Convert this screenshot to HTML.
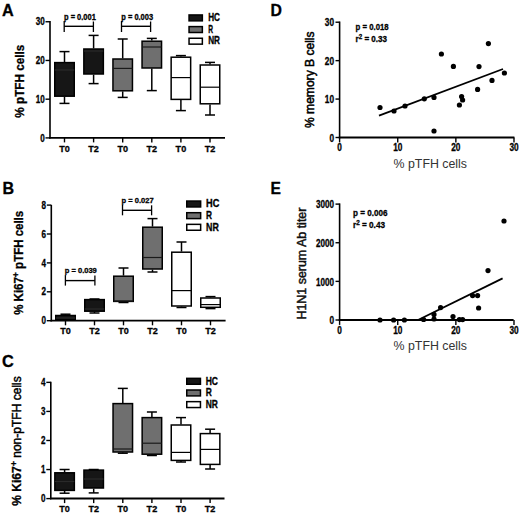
<!DOCTYPE html>
<html><head><meta charset="utf-8"><style>
html,body{margin:0;padding:0;background:#fff;}
svg{display:block;font-family:"Liberation Sans", sans-serif;}
</style></head><body>
<svg width="520" height="515" viewBox="0 0 520 515">
<rect width="520" height="515" fill="#fff"/>
<text x="2" y="15.5" font-size="16" font-weight="bold" text-anchor="start" fill="#000" stroke="#000" stroke-width="0.3" textLength="11.7" lengthAdjust="spacingAndGlyphs" >A</text>
<line x1="50" y1="20.90" x2="50" y2="138.5" stroke="#000" stroke-width="1.6"/>
<line x1="49.2" y1="137.8" x2="225" y2="137.8" stroke="#000" stroke-width="1.8"/>
<line x1="45.5" y1="21.74" x2="50" y2="21.74" stroke="#000" stroke-width="1.4"/>
<text x="44.7" y="25.34" font-size="10" font-weight="bold" text-anchor="end" fill="#000" stroke="#000" stroke-width="0.3" textLength="9" lengthAdjust="spacingAndGlyphs" >30</text>
<line x1="45.5" y1="60.46" x2="50" y2="60.46" stroke="#000" stroke-width="1.4"/>
<text x="44.7" y="64.06" font-size="10" font-weight="bold" text-anchor="end" fill="#000" stroke="#000" stroke-width="0.3" textLength="9" lengthAdjust="spacingAndGlyphs" >20</text>
<line x1="45.5" y1="99.18" x2="50" y2="99.18" stroke="#000" stroke-width="1.4"/>
<text x="44.7" y="102.78" font-size="10" font-weight="bold" text-anchor="end" fill="#000" stroke="#000" stroke-width="0.3" textLength="9" lengthAdjust="spacingAndGlyphs" >10</text>
<line x1="45.5" y1="137.9" x2="50" y2="137.9" stroke="#000" stroke-width="1.4"/>
<text x="44.7" y="141.5" font-size="10" font-weight="bold" text-anchor="end" fill="#000" stroke="#000" stroke-width="0.3" textLength="4.5" lengthAdjust="spacingAndGlyphs" >0</text>
<line x1="64.5" y1="137.8" x2="64.5" y2="142.4" stroke="#000" stroke-width="1.4"/>
<text x="64.5" y="151.60" font-size="9.5" font-weight="bold" text-anchor="middle" fill="#000" stroke="#000" stroke-width="0.3" textLength="10.6" lengthAdjust="spacingAndGlyphs" >T0</text>
<line x1="93.6" y1="137.8" x2="93.6" y2="142.4" stroke="#000" stroke-width="1.4"/>
<text x="93.6" y="151.60" font-size="9.5" font-weight="bold" text-anchor="middle" fill="#000" stroke="#000" stroke-width="0.3" textLength="10.6" lengthAdjust="spacingAndGlyphs" >T2</text>
<line x1="122.7" y1="137.8" x2="122.7" y2="142.4" stroke="#000" stroke-width="1.4"/>
<text x="122.7" y="151.60" font-size="9.5" font-weight="bold" text-anchor="middle" fill="#000" stroke="#000" stroke-width="0.3" textLength="10.6" lengthAdjust="spacingAndGlyphs" >T0</text>
<line x1="151.8" y1="137.8" x2="151.8" y2="142.4" stroke="#000" stroke-width="1.4"/>
<text x="151.8" y="151.60" font-size="9.5" font-weight="bold" text-anchor="middle" fill="#000" stroke="#000" stroke-width="0.3" textLength="10.6" lengthAdjust="spacingAndGlyphs" >T2</text>
<line x1="180.9" y1="137.8" x2="180.9" y2="142.4" stroke="#000" stroke-width="1.4"/>
<text x="180.9" y="151.60" font-size="9.5" font-weight="bold" text-anchor="middle" fill="#000" stroke="#000" stroke-width="0.3" textLength="10.6" lengthAdjust="spacingAndGlyphs" >T0</text>
<line x1="210.0" y1="137.8" x2="210.0" y2="142.4" stroke="#000" stroke-width="1.4"/>
<text x="210.0" y="151.60" font-size="9.5" font-weight="bold" text-anchor="middle" fill="#000" stroke="#000" stroke-width="0.3" textLength="10.6" lengthAdjust="spacingAndGlyphs" >T2</text>
<line x1="64.5" y1="51.6" x2="64.5" y2="62.0" stroke="#000" stroke-width="1.5"/>
<line x1="59.5" y1="51.6" x2="69.5" y2="51.6" stroke="#000" stroke-width="1.5"/>
<line x1="64.5" y1="96.8" x2="64.5" y2="103.4" stroke="#000" stroke-width="1.5"/>
<line x1="59.5" y1="103.4" x2="69.5" y2="103.4" stroke="#000" stroke-width="1.5"/>
<rect x="54.75" y="62.6" width="19.5" height="33.59" fill="#161616" stroke="#000" stroke-width="1.5"/>
<line x1="54.75" y1="70.0" x2="74.25" y2="70.0" stroke="#2a2a2a" stroke-width="1.2"/>
<line x1="93.6" y1="35.4" x2="93.6" y2="48.4" stroke="#000" stroke-width="1.5"/>
<line x1="88.6" y1="35.4" x2="98.6" y2="35.4" stroke="#000" stroke-width="1.5"/>
<line x1="93.6" y1="74.6" x2="93.6" y2="83.6" stroke="#000" stroke-width="1.5"/>
<line x1="88.6" y1="83.6" x2="98.6" y2="83.6" stroke="#000" stroke-width="1.5"/>
<rect x="83.85" y="49.0" width="19.5" height="24.99" fill="#161616" stroke="#000" stroke-width="1.5"/>
<line x1="83.85" y1="51.0" x2="103.35" y2="51.0" stroke="#2a2a2a" stroke-width="1.2"/>
<line x1="122.7" y1="39.0" x2="122.7" y2="58.4" stroke="#000" stroke-width="1.5"/>
<line x1="117.7" y1="39.0" x2="127.7" y2="39.0" stroke="#000" stroke-width="1.5"/>
<line x1="122.7" y1="91.4" x2="122.7" y2="97.4" stroke="#000" stroke-width="1.5"/>
<line x1="117.7" y1="97.4" x2="127.7" y2="97.4" stroke="#000" stroke-width="1.5"/>
<rect x="112.95" y="59.0" width="19.5" height="31.80" fill="#6f6f6f" stroke="#000" stroke-width="1.5"/>
<line x1="112.95" y1="68.4" x2="132.45" y2="68.4" stroke="#1a1a1a" stroke-width="1.2"/>
<line x1="151.8" y1="38.4" x2="151.8" y2="40.6" stroke="#000" stroke-width="1.5"/>
<line x1="146.8" y1="38.4" x2="156.8" y2="38.4" stroke="#000" stroke-width="1.5"/>
<line x1="151.8" y1="68.6" x2="151.8" y2="90.6" stroke="#000" stroke-width="1.5"/>
<line x1="146.8" y1="90.6" x2="156.8" y2="90.6" stroke="#000" stroke-width="1.5"/>
<rect x="142.05" y="41.2" width="19.5" height="26.79" fill="#6f6f6f" stroke="#000" stroke-width="1.5"/>
<line x1="142.05" y1="47.0" x2="161.55" y2="47.0" stroke="#1a1a1a" stroke-width="1.2"/>
<line x1="180.9" y1="55.6" x2="180.9" y2="56.6" stroke="#000" stroke-width="1.5"/>
<line x1="175.9" y1="55.6" x2="185.9" y2="55.6" stroke="#000" stroke-width="1.5"/>
<line x1="180.9" y1="100.0" x2="180.9" y2="110.6" stroke="#000" stroke-width="1.5"/>
<line x1="175.9" y1="110.6" x2="185.9" y2="110.6" stroke="#000" stroke-width="1.5"/>
<rect x="171.15" y="57.2" width="19.5" height="42.19" fill="#ffffff" stroke="#000" stroke-width="1.5"/>
<line x1="171.15" y1="77.6" x2="190.65" y2="77.6" stroke="#000" stroke-width="1.2"/>
<line x1="210.0" y1="62.4" x2="210.0" y2="64.4" stroke="#000" stroke-width="1.5"/>
<line x1="205.0" y1="62.4" x2="215.0" y2="62.4" stroke="#000" stroke-width="1.5"/>
<line x1="210.0" y1="104.4" x2="210.0" y2="115.0" stroke="#000" stroke-width="1.5"/>
<line x1="205.0" y1="115.0" x2="215.0" y2="115.0" stroke="#000" stroke-width="1.5"/>
<rect x="200.25" y="65.0" width="19.5" height="38.8" fill="#ffffff" stroke="#000" stroke-width="1.5"/>
<line x1="200.25" y1="87.2" x2="219.75" y2="87.2" stroke="#000" stroke-width="1.2"/>
<text x="24.1" y="81.2" font-size="12" font-weight="bold" text-anchor="middle" fill="#000" stroke="#000" stroke-width="0.3" textLength="73" lengthAdjust="spacingAndGlyphs" transform="rotate(-90 24.1 81.2)" >% pTFH cells</text>
<rect x="189.05" y="14.95" width="13.3" height="5.9" fill="#161616" stroke="#000" stroke-width="1.5"/>
<text x="208.2" y="21.1" font-size="10" font-weight="bold" text-anchor="start" fill="#000" stroke="#000" stroke-width="0.3" textLength="11.8" lengthAdjust="spacingAndGlyphs" >HC</text>
<rect x="189.05" y="26.6" width="13.3" height="5.9" fill="#6f6f6f" stroke="#000" stroke-width="1.5"/>
<text x="208.2" y="32.75" font-size="10" font-weight="bold" text-anchor="start" fill="#000" stroke="#000" stroke-width="0.3" textLength="4.8" lengthAdjust="spacingAndGlyphs" >R</text>
<rect x="189.05" y="38.25" width="13.3" height="5.9" fill="#ffffff" stroke="#000" stroke-width="1.5"/>
<text x="208.2" y="44.4" font-size="10" font-weight="bold" text-anchor="start" fill="#000" stroke="#000" stroke-width="0.3" textLength="11.8" lengthAdjust="spacingAndGlyphs" >NR</text>
<line x1="64.2" y1="21" x2="64.2" y2="32" stroke="#000" stroke-width="1.3"/>
<line x1="93.4" y1="21.5" x2="93.4" y2="32" stroke="#000" stroke-width="1.3"/>
<line x1="64.2" y1="26.3" x2="93.4" y2="26.3" stroke="#000" stroke-width="1.4"/>
<text x="64.0" y="19.8" font-size="8.5" font-weight="bold" text-anchor="start" fill="#000" stroke="#000" stroke-width="0.3" textLength="31.8" lengthAdjust="spacingAndGlyphs" >p = 0.001</text>
<line x1="121.5" y1="21" x2="121.5" y2="32" stroke="#000" stroke-width="1.3"/>
<line x1="150.6" y1="21.5" x2="150.6" y2="32" stroke="#000" stroke-width="1.3"/>
<line x1="121.5" y1="26.3" x2="150.6" y2="26.3" stroke="#000" stroke-width="1.4"/>
<text x="121.3" y="19.8" font-size="8.5" font-weight="bold" text-anchor="start" fill="#000" stroke="#000" stroke-width="0.3" textLength="31.8" lengthAdjust="spacingAndGlyphs" >p = 0.003</text>
<text x="2.4" y="193.6" font-size="16" font-weight="bold" text-anchor="start" fill="#000" stroke="#000" stroke-width="0.3" textLength="11.6" lengthAdjust="spacingAndGlyphs" >B</text>
<line x1="51.3" y1="204.9" x2="51.3" y2="321.4" stroke="#000" stroke-width="1.6"/>
<line x1="50.5" y1="320.7" x2="225.6" y2="320.7" stroke="#000" stroke-width="1.8"/>
<line x1="46.8" y1="205.1" x2="51.3" y2="205.1" stroke="#000" stroke-width="1.4"/>
<text x="46.0" y="208.7" font-size="10" font-weight="bold" text-anchor="end" fill="#000" stroke="#000" stroke-width="0.3" textLength="4.5" lengthAdjust="spacingAndGlyphs" >8</text>
<line x1="46.8" y1="234.0" x2="51.3" y2="234.0" stroke="#000" stroke-width="1.4"/>
<text x="46.0" y="237.6" font-size="10" font-weight="bold" text-anchor="end" fill="#000" stroke="#000" stroke-width="0.3" textLength="4.5" lengthAdjust="spacingAndGlyphs" >6</text>
<line x1="46.8" y1="262.9" x2="51.3" y2="262.9" stroke="#000" stroke-width="1.4"/>
<text x="46.0" y="266.5" font-size="10" font-weight="bold" text-anchor="end" fill="#000" stroke="#000" stroke-width="0.3" textLength="4.5" lengthAdjust="spacingAndGlyphs" >4</text>
<line x1="46.8" y1="291.8" x2="51.3" y2="291.8" stroke="#000" stroke-width="1.4"/>
<text x="46.0" y="295.40" font-size="10" font-weight="bold" text-anchor="end" fill="#000" stroke="#000" stroke-width="0.3" textLength="4.5" lengthAdjust="spacingAndGlyphs" >2</text>
<line x1="46.8" y1="320.7" x2="51.3" y2="320.7" stroke="#000" stroke-width="1.4"/>
<text x="46.0" y="324.3" font-size="10" font-weight="bold" text-anchor="end" fill="#000" stroke="#000" stroke-width="0.3" textLength="4.5" lengthAdjust="spacingAndGlyphs" >0</text>
<line x1="65.5" y1="320.7" x2="65.5" y2="325.3" stroke="#000" stroke-width="1.4"/>
<text x="65.5" y="333.90" font-size="9.5" font-weight="bold" text-anchor="middle" fill="#000" stroke="#000" stroke-width="0.3" textLength="10.6" lengthAdjust="spacingAndGlyphs" >T0</text>
<line x1="94.5" y1="320.7" x2="94.5" y2="325.3" stroke="#000" stroke-width="1.4"/>
<text x="94.5" y="333.90" font-size="9.5" font-weight="bold" text-anchor="middle" fill="#000" stroke="#000" stroke-width="0.3" textLength="10.6" lengthAdjust="spacingAndGlyphs" >T2</text>
<line x1="123.5" y1="320.7" x2="123.5" y2="325.3" stroke="#000" stroke-width="1.4"/>
<text x="123.5" y="333.90" font-size="9.5" font-weight="bold" text-anchor="middle" fill="#000" stroke="#000" stroke-width="0.3" textLength="10.6" lengthAdjust="spacingAndGlyphs" >T0</text>
<line x1="152.5" y1="320.7" x2="152.5" y2="325.3" stroke="#000" stroke-width="1.4"/>
<text x="152.5" y="333.90" font-size="9.5" font-weight="bold" text-anchor="middle" fill="#000" stroke="#000" stroke-width="0.3" textLength="10.6" lengthAdjust="spacingAndGlyphs" >T2</text>
<line x1="181.5" y1="320.7" x2="181.5" y2="325.3" stroke="#000" stroke-width="1.4"/>
<text x="181.5" y="333.90" font-size="9.5" font-weight="bold" text-anchor="middle" fill="#000" stroke="#000" stroke-width="0.3" textLength="10.6" lengthAdjust="spacingAndGlyphs" >T0</text>
<line x1="210.5" y1="320.7" x2="210.5" y2="325.3" stroke="#000" stroke-width="1.4"/>
<text x="210.5" y="333.90" font-size="9.5" font-weight="bold" text-anchor="middle" fill="#000" stroke="#000" stroke-width="0.3" textLength="10.6" lengthAdjust="spacingAndGlyphs" >T2</text>
<line x1="65.5" y1="314.2" x2="65.5" y2="314.9" stroke="#000" stroke-width="1.5"/>
<line x1="60.5" y1="314.2" x2="70.5" y2="314.2" stroke="#000" stroke-width="1.5"/>
<line x1="65.5" y1="320.0" x2="65.5" y2="320.0" stroke="#000" stroke-width="1.5"/>
<line x1="60.5" y1="320.0" x2="70.5" y2="320.0" stroke="#000" stroke-width="1.5"/>
<rect x="55.75" y="315.5" width="19.5" height="3.90" fill="#161616" stroke="#000" stroke-width="1.5"/>
<line x1="55.75" y1="318.0" x2="75.25" y2="318.0" stroke="#2a2a2a" stroke-width="1.2"/>
<line x1="94.5" y1="299.0" x2="94.5" y2="299.0" stroke="#000" stroke-width="1.5"/>
<line x1="89.5" y1="299.0" x2="99.5" y2="299.0" stroke="#000" stroke-width="1.5"/>
<line x1="94.5" y1="311.8" x2="94.5" y2="313.0" stroke="#000" stroke-width="1.5"/>
<line x1="89.5" y1="313.0" x2="99.5" y2="313.0" stroke="#000" stroke-width="1.5"/>
<rect x="84.75" y="299.6" width="19.5" height="11.60" fill="#161616" stroke="#000" stroke-width="1.5"/>
<line x1="84.75" y1="309.0" x2="104.25" y2="309.0" stroke="#2a2a2a" stroke-width="1.2"/>
<line x1="123.5" y1="268.0" x2="123.5" y2="275.6" stroke="#000" stroke-width="1.5"/>
<line x1="118.5" y1="268.0" x2="128.5" y2="268.0" stroke="#000" stroke-width="1.5"/>
<line x1="123.5" y1="302.0" x2="123.5" y2="302.5" stroke="#000" stroke-width="1.5"/>
<line x1="118.5" y1="302.5" x2="128.5" y2="302.5" stroke="#000" stroke-width="1.5"/>
<rect x="113.75" y="276.20" width="19.5" height="25.19" fill="#6f6f6f" stroke="#000" stroke-width="1.5"/>
<line x1="113.75" y1="301.0" x2="133.25" y2="301.0" stroke="#1a1a1a" stroke-width="1.2"/>
<line x1="152.5" y1="218.6" x2="152.5" y2="226.6" stroke="#000" stroke-width="1.5"/>
<line x1="147.5" y1="218.6" x2="157.5" y2="218.6" stroke="#000" stroke-width="1.5"/>
<line x1="152.5" y1="269.6" x2="152.5" y2="272.0" stroke="#000" stroke-width="1.5"/>
<line x1="147.5" y1="272.0" x2="157.5" y2="272.0" stroke="#000" stroke-width="1.5"/>
<rect x="142.75" y="227.2" width="19.5" height="41.80" fill="#6f6f6f" stroke="#000" stroke-width="1.5"/>
<line x1="142.75" y1="257.5" x2="162.25" y2="257.5" stroke="#1a1a1a" stroke-width="1.2"/>
<line x1="181.5" y1="242.0" x2="181.5" y2="251.6" stroke="#000" stroke-width="1.5"/>
<line x1="176.5" y1="242.0" x2="186.5" y2="242.0" stroke="#000" stroke-width="1.5"/>
<line x1="181.5" y1="306.6" x2="181.5" y2="307.5" stroke="#000" stroke-width="1.5"/>
<line x1="176.5" y1="307.5" x2="186.5" y2="307.5" stroke="#000" stroke-width="1.5"/>
<rect x="171.75" y="252.2" width="19.5" height="53.80" fill="#ffffff" stroke="#000" stroke-width="1.5"/>
<line x1="171.75" y1="290.6" x2="191.25" y2="290.6" stroke="#000" stroke-width="1.2"/>
<line x1="210.5" y1="296.6" x2="210.5" y2="297.4" stroke="#000" stroke-width="1.5"/>
<line x1="205.5" y1="296.6" x2="215.5" y2="296.6" stroke="#000" stroke-width="1.5"/>
<line x1="210.5" y1="307.9" x2="210.5" y2="308.6" stroke="#000" stroke-width="1.5"/>
<line x1="205.5" y1="308.6" x2="215.5" y2="308.6" stroke="#000" stroke-width="1.5"/>
<rect x="200.75" y="298.0" width="19.5" height="9.3" fill="#ffffff" stroke="#000" stroke-width="1.5"/>
<line x1="200.75" y1="304.6" x2="220.25" y2="304.6" stroke="#000" stroke-width="1.2"/>
<text x="23.0" y="262.8" font-size="12" font-weight="bold" text-anchor="middle" fill="#000" stroke="#000" stroke-width="0.3" textLength="104" lengthAdjust="spacingAndGlyphs" transform="rotate(-90 23.0 262.8)" >% Ki67<tspan font-size="9" dy="-4">+</tspan><tspan dy="4"> pTFH cells</tspan></text>
<rect x="186.75" y="201.05" width="13.9" height="5.9" fill="#161616" stroke="#000" stroke-width="1.5"/>
<text x="206" y="207.20" font-size="10" font-weight="bold" text-anchor="start" fill="#000" stroke="#000" stroke-width="0.3" textLength="13.3" lengthAdjust="spacingAndGlyphs" >HC</text>
<rect x="186.75" y="212.70" width="13.9" height="5.9" fill="#6f6f6f" stroke="#000" stroke-width="1.5"/>
<text x="206" y="218.85" font-size="10" font-weight="bold" text-anchor="start" fill="#000" stroke="#000" stroke-width="0.3" textLength="6" lengthAdjust="spacingAndGlyphs" >R</text>
<rect x="186.75" y="224.35" width="13.9" height="5.9" fill="#ffffff" stroke="#000" stroke-width="1.5"/>
<text x="206" y="230.50" font-size="10" font-weight="bold" text-anchor="start" fill="#000" stroke="#000" stroke-width="0.3" textLength="12.8" lengthAdjust="spacingAndGlyphs" >NR</text>
<line x1="65.4" y1="275.1" x2="65.4" y2="285.6" stroke="#000" stroke-width="1.3"/>
<line x1="94.9" y1="275.6" x2="94.9" y2="285.6" stroke="#000" stroke-width="1.3"/>
<line x1="65.4" y1="280.6" x2="94.9" y2="280.6" stroke="#000" stroke-width="1.4"/>
<text x="64.8" y="273.2" font-size="8" font-weight="bold" text-anchor="start" fill="#000" stroke="#000" stroke-width="0.3" textLength="32" lengthAdjust="spacingAndGlyphs" >p = 0.039</text>
<line x1="122.5" y1="204.8" x2="122.5" y2="215.3" stroke="#000" stroke-width="1.3"/>
<line x1="151.6" y1="205.3" x2="151.6" y2="215.3" stroke="#000" stroke-width="1.3"/>
<line x1="122.5" y1="210.3" x2="151.6" y2="210.3" stroke="#000" stroke-width="1.4"/>
<text x="121.6" y="203.2" font-size="8" font-weight="bold" text-anchor="start" fill="#000" stroke="#000" stroke-width="0.3" textLength="32" lengthAdjust="spacingAndGlyphs" >p = 0.027</text>
<text x="2" y="366.5" font-size="16" font-weight="bold" text-anchor="start" fill="#000" stroke="#000" stroke-width="0.3" textLength="11.8" lengthAdjust="spacingAndGlyphs" >C</text>
<line x1="50.8" y1="381.7" x2="50.8" y2="499.2" stroke="#000" stroke-width="1.6"/>
<line x1="50.0" y1="498.5" x2="224.5" y2="498.5" stroke="#000" stroke-width="1.8"/>
<line x1="46.3" y1="382.36" x2="50.8" y2="382.36" stroke="#000" stroke-width="1.4"/>
<text x="45.5" y="385.96" font-size="10" font-weight="bold" text-anchor="end" fill="#000" stroke="#000" stroke-width="0.3" textLength="4.5" lengthAdjust="spacingAndGlyphs" >4</text>
<line x1="46.3" y1="411.42" x2="50.8" y2="411.42" stroke="#000" stroke-width="1.4"/>
<text x="45.5" y="415.02" font-size="10" font-weight="bold" text-anchor="end" fill="#000" stroke="#000" stroke-width="0.3" textLength="4.5" lengthAdjust="spacingAndGlyphs" >3</text>
<line x1="46.3" y1="440.48" x2="50.8" y2="440.48" stroke="#000" stroke-width="1.4"/>
<text x="45.5" y="444.08" font-size="10" font-weight="bold" text-anchor="end" fill="#000" stroke="#000" stroke-width="0.3" textLength="4.5" lengthAdjust="spacingAndGlyphs" >2</text>
<line x1="46.3" y1="469.54" x2="50.8" y2="469.54" stroke="#000" stroke-width="1.4"/>
<text x="45.5" y="473.14" font-size="10" font-weight="bold" text-anchor="end" fill="#000" stroke="#000" stroke-width="0.3" textLength="4.5" lengthAdjust="spacingAndGlyphs" >1</text>
<line x1="46.3" y1="498.6" x2="50.8" y2="498.6" stroke="#000" stroke-width="1.4"/>
<text x="45.5" y="502.20" font-size="10" font-weight="bold" text-anchor="end" fill="#000" stroke="#000" stroke-width="0.3" textLength="4.5" lengthAdjust="spacingAndGlyphs" >0</text>
<line x1="64.6" y1="498.5" x2="64.6" y2="503.1" stroke="#000" stroke-width="1.4"/>
<text x="64.6" y="512.1" font-size="9.5" font-weight="bold" text-anchor="middle" fill="#000" stroke="#000" stroke-width="0.3" textLength="10.6" lengthAdjust="spacingAndGlyphs" >T0</text>
<line x1="93.69" y1="498.5" x2="93.69" y2="503.1" stroke="#000" stroke-width="1.4"/>
<text x="93.69" y="512.1" font-size="9.5" font-weight="bold" text-anchor="middle" fill="#000" stroke="#000" stroke-width="0.3" textLength="10.6" lengthAdjust="spacingAndGlyphs" >T2</text>
<line x1="122.8" y1="498.5" x2="122.8" y2="503.1" stroke="#000" stroke-width="1.4"/>
<text x="122.8" y="512.1" font-size="9.5" font-weight="bold" text-anchor="middle" fill="#000" stroke="#000" stroke-width="0.3" textLength="10.6" lengthAdjust="spacingAndGlyphs" >T0</text>
<line x1="151.9" y1="498.5" x2="151.9" y2="503.1" stroke="#000" stroke-width="1.4"/>
<text x="151.9" y="512.1" font-size="9.5" font-weight="bold" text-anchor="middle" fill="#000" stroke="#000" stroke-width="0.3" textLength="10.6" lengthAdjust="spacingAndGlyphs" >T2</text>
<line x1="181.0" y1="498.5" x2="181.0" y2="503.1" stroke="#000" stroke-width="1.4"/>
<text x="181.0" y="512.1" font-size="9.5" font-weight="bold" text-anchor="middle" fill="#000" stroke="#000" stroke-width="0.3" textLength="10.6" lengthAdjust="spacingAndGlyphs" >T0</text>
<line x1="210.1" y1="498.5" x2="210.1" y2="503.1" stroke="#000" stroke-width="1.4"/>
<text x="210.1" y="512.1" font-size="9.5" font-weight="bold" text-anchor="middle" fill="#000" stroke="#000" stroke-width="0.3" textLength="10.6" lengthAdjust="spacingAndGlyphs" >T2</text>
<line x1="64.6" y1="469.5" x2="64.6" y2="472.2" stroke="#000" stroke-width="1.5"/>
<line x1="59.59" y1="469.5" x2="69.6" y2="469.5" stroke="#000" stroke-width="1.5"/>
<line x1="64.6" y1="491.0" x2="64.6" y2="493.2" stroke="#000" stroke-width="1.5"/>
<line x1="59.59" y1="493.2" x2="69.6" y2="493.2" stroke="#000" stroke-width="1.5"/>
<rect x="54.84" y="472.8" width="19.5" height="17.60" fill="#161616" stroke="#000" stroke-width="1.5"/>
<line x1="54.84" y1="481.5" x2="74.35" y2="481.5" stroke="#2a2a2a" stroke-width="1.2"/>
<line x1="93.69" y1="469.5" x2="93.69" y2="469.5" stroke="#000" stroke-width="1.5"/>
<line x1="88.69" y1="469.5" x2="98.69" y2="469.5" stroke="#000" stroke-width="1.5"/>
<line x1="93.69" y1="488.6" x2="93.69" y2="492.9" stroke="#000" stroke-width="1.5"/>
<line x1="88.69" y1="492.9" x2="98.69" y2="492.9" stroke="#000" stroke-width="1.5"/>
<rect x="83.94" y="470.1" width="19.5" height="17.90" fill="#161616" stroke="#000" stroke-width="1.5"/>
<line x1="83.94" y1="479.0" x2="103.44" y2="479.0" stroke="#2a2a2a" stroke-width="1.2"/>
<line x1="122.8" y1="388.4" x2="122.8" y2="403.0" stroke="#000" stroke-width="1.5"/>
<line x1="117.8" y1="388.4" x2="127.8" y2="388.4" stroke="#000" stroke-width="1.5"/>
<line x1="122.8" y1="452.6" x2="122.8" y2="453.2" stroke="#000" stroke-width="1.5"/>
<line x1="117.8" y1="453.2" x2="127.8" y2="453.2" stroke="#000" stroke-width="1.5"/>
<rect x="113.05" y="403.6" width="19.5" height="48.40" fill="#6f6f6f" stroke="#000" stroke-width="1.5"/>
<line x1="113.05" y1="449.0" x2="132.55" y2="449.0" stroke="#1a1a1a" stroke-width="1.2"/>
<line x1="151.9" y1="412.0" x2="151.9" y2="417.0" stroke="#000" stroke-width="1.5"/>
<line x1="146.9" y1="412.0" x2="156.9" y2="412.0" stroke="#000" stroke-width="1.5"/>
<line x1="151.9" y1="454.8" x2="151.9" y2="455.5" stroke="#000" stroke-width="1.5"/>
<line x1="146.9" y1="455.5" x2="156.9" y2="455.5" stroke="#000" stroke-width="1.5"/>
<rect x="142.15" y="417.6" width="19.5" height="36.60" fill="#6f6f6f" stroke="#000" stroke-width="1.5"/>
<line x1="142.15" y1="443.2" x2="161.65" y2="443.2" stroke="#1a1a1a" stroke-width="1.2"/>
<line x1="181.0" y1="417.6" x2="181.0" y2="424.4" stroke="#000" stroke-width="1.5"/>
<line x1="176.0" y1="417.6" x2="186.0" y2="417.6" stroke="#000" stroke-width="1.5"/>
<line x1="181.0" y1="461.0" x2="181.0" y2="462.0" stroke="#000" stroke-width="1.5"/>
<line x1="176.0" y1="462.0" x2="186.0" y2="462.0" stroke="#000" stroke-width="1.5"/>
<rect x="171.25" y="425.0" width="19.5" height="35.40" fill="#ffffff" stroke="#000" stroke-width="1.5"/>
<line x1="171.25" y1="452.4" x2="190.75" y2="452.4" stroke="#000" stroke-width="1.2"/>
<line x1="210.1" y1="429.2" x2="210.1" y2="433.0" stroke="#000" stroke-width="1.5"/>
<line x1="205.1" y1="429.2" x2="215.1" y2="429.2" stroke="#000" stroke-width="1.5"/>
<line x1="210.1" y1="465.0" x2="210.1" y2="469.0" stroke="#000" stroke-width="1.5"/>
<line x1="205.1" y1="469.0" x2="215.1" y2="469.0" stroke="#000" stroke-width="1.5"/>
<rect x="200.35" y="433.6" width="19.5" height="30.8" fill="#ffffff" stroke="#000" stroke-width="1.5"/>
<line x1="200.35" y1="449.4" x2="219.85" y2="449.4" stroke="#000" stroke-width="1.2"/>
<text x="21.3" y="441" font-size="12" font-weight="bold" text-anchor="middle" fill="#000" stroke="#000" stroke-width="0.3" textLength="129.5" lengthAdjust="spacingAndGlyphs" transform="rotate(-90 21.3 441)" >% Ki67<tspan font-size="9" dy="-4">+</tspan><tspan dy="4" font-weight="normal" stroke-width="0.45"> non-pTFH cells</tspan></text>
<rect x="186.75" y="378.35" width="13.7" height="5.9" fill="#161616" stroke="#000" stroke-width="1.5"/>
<text x="205.7" y="384.5" font-size="10" font-weight="bold" text-anchor="start" fill="#000" stroke="#000" stroke-width="0.3" textLength="12.3" lengthAdjust="spacingAndGlyphs" >HC</text>
<rect x="186.75" y="390.0" width="13.7" height="5.9" fill="#6f6f6f" stroke="#000" stroke-width="1.5"/>
<text x="205.7" y="396.15" font-size="10" font-weight="bold" text-anchor="start" fill="#000" stroke="#000" stroke-width="0.3" textLength="6.1" lengthAdjust="spacingAndGlyphs" >R</text>
<rect x="186.75" y="401.65" width="13.7" height="5.9" fill="#ffffff" stroke="#000" stroke-width="1.5"/>
<text x="205.7" y="407.8" font-size="10" font-weight="bold" text-anchor="start" fill="#000" stroke="#000" stroke-width="0.3" textLength="12.2" lengthAdjust="spacingAndGlyphs" >NR</text>
<text x="270.4" y="15.6" font-size="16" font-weight="bold" text-anchor="start" fill="#000" stroke="#000" stroke-width="0.3" textLength="11.4" lengthAdjust="spacingAndGlyphs" >D</text>
<line x1="339.6" y1="21.5" x2="339.6" y2="138.3" stroke="#000" stroke-width="1.6"/>
<line x1="338.8" y1="137.5" x2="514.4" y2="137.5" stroke="#000" stroke-width="1.8"/>
<line x1="335.5" y1="137.5" x2="339.6" y2="137.5" stroke="#000" stroke-width="1.4"/>
<text x="334.0" y="141.5" font-size="10" font-weight="bold" text-anchor="end" fill="#000" stroke="#000" stroke-width="0.3" textLength="4.6" lengthAdjust="spacingAndGlyphs" >0</text>
<line x1="339.6" y1="137.5" x2="339.6" y2="142.4" stroke="#000" stroke-width="1.4"/>
<text x="339.6" y="151.2" font-size="10" font-weight="bold" text-anchor="middle" fill="#000" stroke="#000" stroke-width="0.3" textLength="4.6" lengthAdjust="spacingAndGlyphs" >0</text>
<line x1="335.5" y1="99.07" x2="339.6" y2="99.07" stroke="#000" stroke-width="1.4"/>
<text x="334.0" y="103.07" font-size="10" font-weight="bold" text-anchor="end" fill="#000" stroke="#000" stroke-width="0.3" textLength="9.2" lengthAdjust="spacingAndGlyphs" >10</text>
<line x1="397.73" y1="137.5" x2="397.73" y2="142.4" stroke="#000" stroke-width="1.4"/>
<text x="397.73" y="151.2" font-size="10" font-weight="bold" text-anchor="middle" fill="#000" stroke="#000" stroke-width="0.3" textLength="9.2" lengthAdjust="spacingAndGlyphs" >10</text>
<line x1="335.5" y1="60.64" x2="339.6" y2="60.64" stroke="#000" stroke-width="1.4"/>
<text x="334.0" y="64.64" font-size="10" font-weight="bold" text-anchor="end" fill="#000" stroke="#000" stroke-width="0.3" textLength="9.2" lengthAdjust="spacingAndGlyphs" >20</text>
<line x1="455.86" y1="137.5" x2="455.86" y2="142.4" stroke="#000" stroke-width="1.4"/>
<text x="455.86" y="151.2" font-size="10" font-weight="bold" text-anchor="middle" fill="#000" stroke="#000" stroke-width="0.3" textLength="9.2" lengthAdjust="spacingAndGlyphs" >20</text>
<line x1="335.5" y1="22.21" x2="339.6" y2="22.21" stroke="#000" stroke-width="1.4"/>
<text x="334.0" y="26.21" font-size="10" font-weight="bold" text-anchor="end" fill="#000" stroke="#000" stroke-width="0.3" textLength="9.2" lengthAdjust="spacingAndGlyphs" >30</text>
<line x1="513.99" y1="137.5" x2="513.99" y2="142.4" stroke="#000" stroke-width="1.4"/>
<text x="513.99" y="151.2" font-size="10" font-weight="bold" text-anchor="middle" fill="#000" stroke="#000" stroke-width="0.3" textLength="9.2" lengthAdjust="spacingAndGlyphs" >30</text>
<text x="314.0" y="79.7" font-size="12" font-weight="normal" text-anchor="middle" fill="#000" stroke="#000" stroke-width="0.5" textLength="96.5" lengthAdjust="spacingAndGlyphs" transform="rotate(-90 314.0 79.7)" >% memory B cells</text>
<text x="393.6" y="167.9" font-size="12" font-weight="normal" text-anchor="start" fill="#333" textLength="73.4" lengthAdjust="spacingAndGlyphs" >% pTFH cells</text>
<text x="355.6" y="30.4" font-size="9" font-weight="bold" text-anchor="start" fill="#000" stroke="#000" stroke-width="0.3" textLength="33" lengthAdjust="spacingAndGlyphs" >p = 0.018</text>
<text x="355.6" y="41.6" font-size="9" font-weight="bold" text-anchor="start" fill="#000" stroke="#000" stroke-width="0.3" textLength="31.4" lengthAdjust="spacingAndGlyphs" >r<tspan font-size="7" dy="-3">2</tspan><tspan dy="3"> = 0.33</tspan></text>
<line x1="379" y1="115.6" x2="503" y2="69" stroke="#000" stroke-width="1.8"/>
<circle cx="380" cy="107.5" r="2.6" fill="#000"/>
<circle cx="394" cy="111" r="2.6" fill="#000"/>
<circle cx="405" cy="106" r="2.6" fill="#000"/>
<circle cx="424.3" cy="98.8" r="2.6" fill="#000"/>
<circle cx="434" cy="97.4" r="2.6" fill="#000"/>
<circle cx="434" cy="131" r="2.6" fill="#000"/>
<circle cx="441.4" cy="54" r="2.6" fill="#000"/>
<circle cx="488.4" cy="43.6" r="2.6" fill="#000"/>
<circle cx="453.4" cy="66.4" r="2.6" fill="#000"/>
<circle cx="479" cy="66.6" r="2.6" fill="#000"/>
<circle cx="504.4" cy="73" r="2.6" fill="#000"/>
<circle cx="492" cy="80.4" r="2.6" fill="#000"/>
<circle cx="477.6" cy="89.4" r="2.6" fill="#000"/>
<circle cx="461.6" cy="96.6" r="2.6" fill="#000"/>
<circle cx="462.6" cy="100" r="2.6" fill="#000"/>
<circle cx="459.4" cy="105" r="2.6" fill="#000"/>
<text x="270.4" y="194.1" font-size="16" font-weight="bold" text-anchor="start" fill="#000" stroke="#000" stroke-width="0.3" textLength="10.4" lengthAdjust="spacingAndGlyphs" >E</text>
<line x1="339.6" y1="203.4" x2="339.6" y2="320.8" stroke="#000" stroke-width="1.6"/>
<line x1="338.8" y1="320.0" x2="513.6" y2="320.0" stroke="#000" stroke-width="1.8"/>
<line x1="335.5" y1="320.0" x2="339.6" y2="320.0" stroke="#000" stroke-width="1.4"/>
<text x="334.0" y="324.2" font-size="10" font-weight="bold" text-anchor="end" fill="#000" stroke="#000" stroke-width="0.3" textLength="4.6" lengthAdjust="spacingAndGlyphs" >0</text>
<line x1="335.5" y1="281.37" x2="339.6" y2="281.37" stroke="#000" stroke-width="1.4"/>
<text x="334.0" y="285.57" font-size="10" font-weight="bold" text-anchor="end" fill="#000" stroke="#000" stroke-width="0.3" textLength="18" lengthAdjust="spacingAndGlyphs" >1000</text>
<line x1="335.5" y1="242.74" x2="339.6" y2="242.74" stroke="#000" stroke-width="1.4"/>
<text x="334.0" y="246.94" font-size="10" font-weight="bold" text-anchor="end" fill="#000" stroke="#000" stroke-width="0.3" textLength="18" lengthAdjust="spacingAndGlyphs" >2000</text>
<line x1="335.5" y1="204.11" x2="339.6" y2="204.11" stroke="#000" stroke-width="1.4"/>
<text x="334.0" y="208.31" font-size="10" font-weight="bold" text-anchor="end" fill="#000" stroke="#000" stroke-width="0.3" textLength="18" lengthAdjust="spacingAndGlyphs" >3000</text>
<line x1="339.6" y1="320" x2="339.6" y2="324.9" stroke="#000" stroke-width="1.4"/>
<text x="339.6" y="333.6" font-size="10" font-weight="bold" text-anchor="middle" fill="#000" stroke="#000" stroke-width="0.3" textLength="4.6" lengthAdjust="spacingAndGlyphs" >0</text>
<line x1="397.73" y1="320" x2="397.73" y2="324.9" stroke="#000" stroke-width="1.4"/>
<text x="397.73" y="333.6" font-size="10" font-weight="bold" text-anchor="middle" fill="#000" stroke="#000" stroke-width="0.3" textLength="9.2" lengthAdjust="spacingAndGlyphs" >10</text>
<line x1="455.86" y1="320" x2="455.86" y2="324.9" stroke="#000" stroke-width="1.4"/>
<text x="455.86" y="333.6" font-size="10" font-weight="bold" text-anchor="middle" fill="#000" stroke="#000" stroke-width="0.3" textLength="9.2" lengthAdjust="spacingAndGlyphs" >20</text>
<line x1="513.99" y1="320" x2="513.99" y2="324.9" stroke="#000" stroke-width="1.4"/>
<text x="513.99" y="333.6" font-size="10" font-weight="bold" text-anchor="middle" fill="#000" stroke="#000" stroke-width="0.3" textLength="9.2" lengthAdjust="spacingAndGlyphs" >30</text>
<text x="306.0" y="263.6" font-size="12" font-weight="normal" text-anchor="middle" fill="#111" stroke="#111" stroke-width="0.45" textLength="112" lengthAdjust="spacingAndGlyphs" transform="rotate(-90 306.0 263.6)" >H1N1 serum Ab titer</text>
<text x="393.6" y="350.2" font-size="12" font-weight="normal" text-anchor="start" fill="#333" textLength="73.4" lengthAdjust="spacingAndGlyphs" >% pTFH cells</text>
<text x="353" y="216.4" font-size="9" font-weight="bold" text-anchor="start" fill="#000" stroke="#000" stroke-width="0.3" textLength="34.4" lengthAdjust="spacingAndGlyphs" >p = 0.006</text>
<text x="353" y="227.6" font-size="9" font-weight="bold" text-anchor="start" fill="#000" stroke="#000" stroke-width="0.3" textLength="32" lengthAdjust="spacingAndGlyphs" >r<tspan font-size="7" dy="-3">2</tspan><tspan dy="3"> = 0.43</tspan></text>
<line x1="418" y1="320" x2="502.6" y2="278.4" stroke="#000" stroke-width="1.8"/>
<circle cx="380" cy="320" r="2.6" fill="#000"/>
<circle cx="393.6" cy="320" r="2.6" fill="#000"/>
<circle cx="404.4" cy="320" r="2.6" fill="#000"/>
<circle cx="423.6" cy="319.5" r="2.6" fill="#000"/>
<circle cx="434" cy="319" r="2.6" fill="#000"/>
<circle cx="434" cy="314.4" r="2.6" fill="#000"/>
<circle cx="440.6" cy="307.6" r="2.6" fill="#000"/>
<circle cx="453" cy="316.6" r="2.6" fill="#000"/>
<circle cx="459.4" cy="319.6" r="2.6" fill="#000"/>
<circle cx="462.6" cy="319.6" r="2.6" fill="#000"/>
<circle cx="472.6" cy="295.6" r="2.6" fill="#000"/>
<circle cx="477.6" cy="295.6" r="2.6" fill="#000"/>
<circle cx="478.6" cy="308" r="2.6" fill="#000"/>
<circle cx="488" cy="270.6" r="2.6" fill="#000"/>
<circle cx="504" cy="221" r="2.6" fill="#000"/>
</svg>
</body></html>
